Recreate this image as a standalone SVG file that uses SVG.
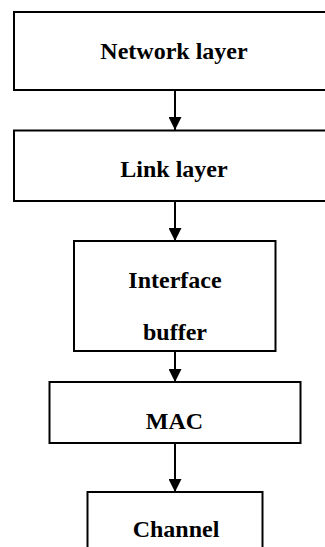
<svg xmlns="http://www.w3.org/2000/svg" width="325" height="547" viewBox="0 0 325 547">
<style>
.box{fill:#fff;stroke:#000;stroke-width:2}
.lbl{font-family:"Liberation Serif","Times New Roman",serif;font-weight:bold;font-size:24px;fill:#000;text-anchor:middle}
.con{stroke:#000;stroke-width:2;fill:none}
</style>
<defs>
<marker id="ah" markerUnits="userSpaceOnUse" markerWidth="14" markerHeight="13" refX="14" refY="7" orient="auto" viewBox="0 0 14 14">
<path d="M0,0 L14,7 L0,14 Z" fill="#000"/>
</marker>
</defs>
<rect width="325" height="547" fill="#fff"/>
<g id="network-layer">
<rect class="box" x="14" y="12" width="324" height="78"/>
<text class="lbl" x="174" y="59">Network layer</text>
</g>
<g id="link-layer">
<rect class="box" x="14" y="130.5" width="324" height="70.5"/>
<text class="lbl" x="174" y="177">Link layer</text>
</g>
<g id="interface-buffer">
<rect class="box" x="74" y="241" width="201.5" height="110"/>
<text class="lbl" x="175" y="288">Interface</text>
<text class="lbl" x="175" y="340">buffer</text>
</g>
<g id="mac">
<rect class="box" x="49.5" y="382" width="251" height="61"/>
<text class="lbl" x="174.5" y="429">MAC</text>
</g>
<g id="channel">
<rect class="box" x="87.5" y="492" width="175" height="70"/>
<text class="lbl" x="176" y="537">Channel</text>
</g>
<g id="connectors">
<line class="con" x1="175" y1="90" x2="175" y2="130" marker-end="url(#ah)"/>
<line class="con" x1="175" y1="201" x2="175" y2="241" marker-end="url(#ah)"/>
<line class="con" x1="175" y1="351" x2="175" y2="382" marker-end="url(#ah)"/>
<line class="con" x1="175" y1="443" x2="175" y2="492" marker-end="url(#ah)"/>
</g>
</svg>
